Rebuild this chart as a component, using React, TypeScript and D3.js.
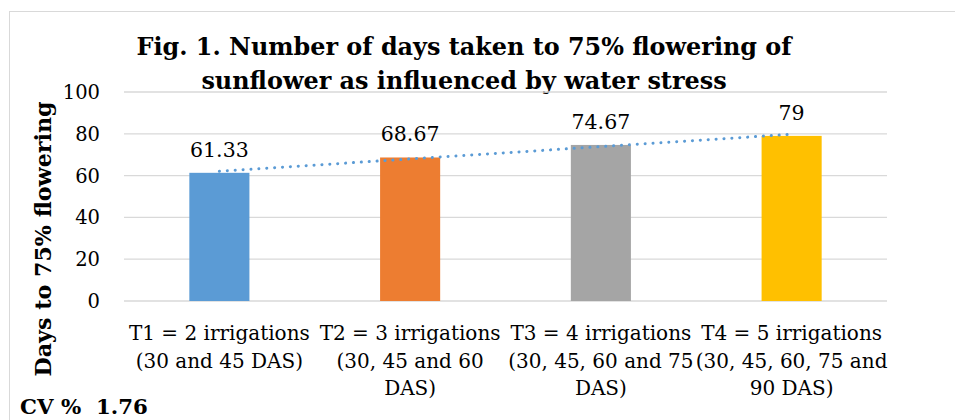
import React from "react";
import * as d3 from "d3";

const categories = [
  ["T1 = 2 irrigations", "(30 and 45 DAS)"],
  ["T2 = 3 irrigations", "(30, 45 and 60", "DAS)"],
  ["T3 = 4 irrigations", "(30, 45, 60 and 75", "DAS)"],
  ["T4 = 5 irrigations", "(30, 45, 60, 75 and", "90 DAS)"],
];
const values = [61.33, 68.67, 74.67, 79];
const valueLabels = ["61.33", "68.67", "74.67", "79"];
const colors = ["#5B9BD5", "#ED7D31", "#A5A5A5", "#FFC000"];
const yTicks = [0, 20, 40, 60, 80, 100];
const titleLines = [
  "Fig. 1. Number of days taken to 75% flowering of",
  "sunflower as influenced by water stress",
];
const yTitle = "Days to 75% flowering";
const footnote = "CV %  1.76";

const W = 955;
const H = 420;
const FONT = "'DejaVu Serif', 'Liberation Serif', serif";

export default function App() {
  const left = 124, right = 887, top = 92, bottom = 301;
  const x = d3.scaleBand<number>().domain(d3.range(values.length)).range([left, right]).paddingInner(0.685).paddingOuter(0.3425);
  const y = d3.scaleLinear().domain([0, 100]).range([bottom, top]);
  const bw = x.bandwidth();
  const cx = (i: number) => (x(i) as number) + bw / 2;

  // linear trendline (least squares over category index)
  const n = values.length;
  const xs = d3.range(1, n + 1);
  const mx = d3.mean(xs) as number;
  const my = d3.mean(values) as number;
  const slope = d3.sum(xs.map((v, i) => (v - mx) * (values[i] - my))) / d3.sum(xs.map((v) => (v - mx) ** 2));
  const icpt = my - slope * mx;
  const trend = d3.line<number>().x((i) => cx(i)).y((i) => y(icpt + slope * (i + 1)));

  return (
    <svg width={W} height={H} style={{ position: "absolute", left: 0, top: 0, background: "#fff" }} fontFamily={FONT}>
      <rect x={0} y={0} width={W} height={H} fill="#fff" />
      <rect x={9.5} y={11.5} width={W + 20} height={H + 20} fill="none" stroke="#D9D9D9" strokeWidth={1} />
      {titleLines.map((t, i) => (
        <text key={i} x={464} y={55 + i * 34} textAnchor="middle" fontWeight="bold" fontSize={23.9} fill="#000">{t}</text>
      ))}
      {yTicks.map((t) => (
        <g key={t}>
          <line x1={left} x2={right} y1={y(t)} y2={y(t)} stroke="#D9D9D9" strokeWidth={1.3} />
          <text x={100} y={y(t)} dy="0.36em" textAnchor="end" fontSize={19.5} fill="#000">{t}</text>
        </g>
      ))}
      {values.map((v, i) => (
        <rect key={i} x={x(i)} y={y(v)} width={bw} height={y(0) - y(v)} fill={colors[i]} />
      ))}
      <path d={trend([0, n - 1]) as string} fill="none" stroke="#5B9BD5" strokeWidth={3} strokeDasharray="0.1 7.8" strokeLinecap="round" />
      {values.map((v, i) => (
        <text key={i} x={cx(i)} y={y(v) - 16} textAnchor="middle" fontSize={20.5} fill="#000">{valueLabels[i]}</text>
      ))}
      {categories.map((lines, i) => (
        <text key={i} textAnchor="middle" fontSize={20} fill="#000">
          {lines.map((l, j) => (
            <tspan key={j} x={cx(i)} y={340 + j * 27.5}>{l}</tspan>
          ))}
        </text>
      ))}
      <text transform={`translate(51,239) rotate(-90)`} textAnchor="middle" fontWeight="bold" fontSize={22.2} fill="#000">{yTitle}</text>
      <text x={20} y={414} fontWeight="bold" fontSize={21.3} fill="#000" style={{ whiteSpace: "pre" }}>{footnote}</text>
    </svg>
  );
}
